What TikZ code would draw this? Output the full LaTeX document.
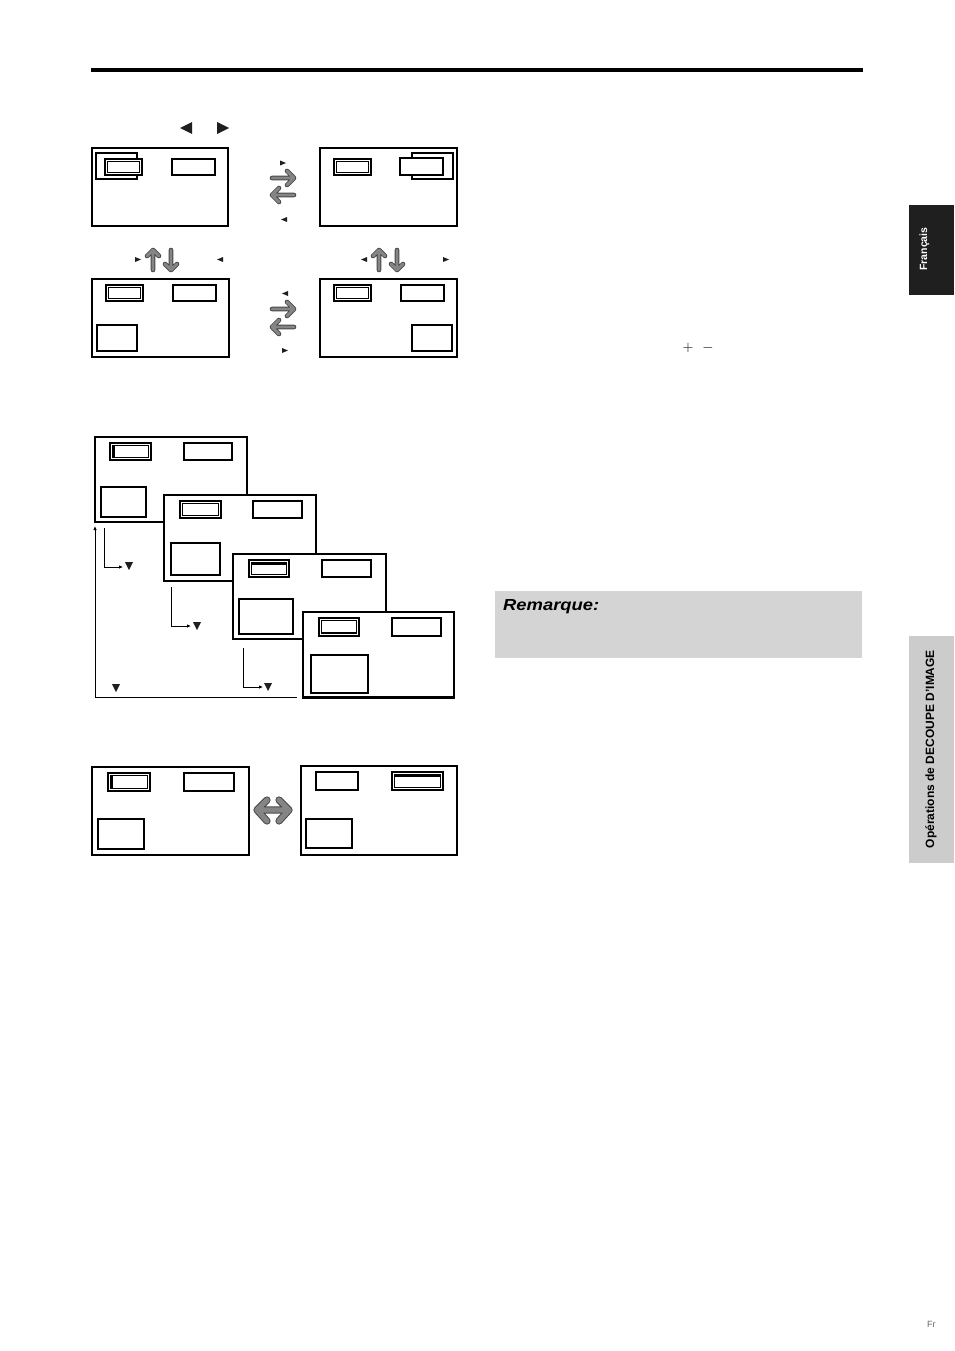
\documentclass[tikz,border=0pt]{standalone}
\usepackage{fontspec}
\usepackage{graphicx}
\setmainfont{Liberation Sans}
\usetikzlibrary{arrows.meta}
\newcommand\dblbox[4]{\draw[bx] (#1,#2) rectangle (#3,#4); \draw[bx] (#1+2.5,#2+2.5) rectangle (#3-2.5,#4-2.5);}
\newcommand\garrow[1]{\draw[garrowout] #1; \draw[garrowin] #1;}
\begin{document}
\begin{tikzpicture}[x=1pt,y=-1pt,
  scr/.style={draw=black, line width=1.3pt, fill=white},
  bx/.style={draw=black, line width=1.1pt, fill=white},
  thk/.style={draw=black, line width=2.4pt},
  tri/.style={fill=black!88},
  conn/.style={draw=black, line width=0.9pt, -{Latex[length=4pt,width=3.5pt]}},
  garrowout/.style={draw=black!72, line width=4.6pt, line cap=round, line join=round},
  garrowin/.style={draw=black!48, line width=2.9pt, line cap=round, line join=round},
  garrowoutb/.style={draw=black!72, line width=7.2pt, line cap=round, line join=round},
  garrowinb/.style={draw=black!48, line width=5.2pt, line cap=round, line join=round},
]
\useasboundingbox (0,0) rectangle (954,1351);
\fill[white] (0,0) rectangle (954,1351);

% top rule
\draw[line width=4pt] (91,70) -- (863,70);

% side tabs
\fill[black!88] (909,205) rectangle (954,295);
\node[rotate=90, anchor=base, text=white, font=\bfseries\fontsize{10.5}{10.5}\selectfont] (tabfr) at (927,249) {Français};
\fill[black!20] (909,636) rectangle (954,863);
\node[rotate=90, anchor=base, text=black, font=\bfseries\fontsize{12}{12}\selectfont] (tabop) at (934,749) {Opérations de DECOUPE D'IMAGE};

% remarque box
\fill[black!17] (495,591) rectangle (862,658);
\node[anchor=base west, inner sep=0pt, font=\bfseries\itshape\fontsize{16}{16}\selectfont] (rem) at (503,610) {\scalebox{1.15}[1]{Remarque:}};

% + -
\node[font=\fontsize{14}{14}\selectfont] (plus) at (688,348) {$+$};
\node[font=\fontsize{14}{14}\selectfont] (minus) at (708,348) {$-$};

% Fr
\node[anchor=base west, inner sep=0pt, text=black!60, font=\fontsize{9}{9}\selectfont] (fr) at (927,1327.5) {Fr};

% top triangles
\fill[tri] (192,122) -- (180,128) -- (192,134) -- cycle;
\fill[tri] (217,122) -- (229,128) -- (217,134) -- cycle;

% ---------- row 1 ----------
\draw[scr] (92,148) rectangle (228,226);
\draw[bx] (96,153) rectangle (137,179);
\dblbox{105}{159}{142}{175}
\draw[bx] (172,159) rectangle (215,175);

\draw[scr] (320,148) rectangle (457,226);
\dblbox{334}{159}{371}{175}
\draw[bx] (412,153) rectangle (453,179);
\draw[bx] (400,158) rectangle (443,175);

\fill[tri] (280,160.5) -- (286,163) -- (280,165.5) -- cycle;
\garrow{(272,178) -- (294,178) (287,171) -- (294,178) -- (287,185)}
\garrow{(294,195) -- (272,195) (279,188) -- (272,195) -- (279,202)}
\fill[tri] (287,217) -- (281,219.5) -- (287,222) -- cycle;

% ---------- row 2 ----------
\fill[tri] (135,257) -- (141,259.5) -- (135,262) -- cycle;
\garrow{(153,270) -- (153,250) (147,256) -- (153,250) -- (159,256)}
\garrow{(171,250) -- (171,270) (165,264) -- (171,270) -- (177,264)}
\fill[tri] (223,257) -- (217,259.5) -- (223,262) -- cycle;

\fill[tri] (367,257) -- (361,259.5) -- (367,262) -- cycle;
\garrow{(379,270) -- (379,250) (373,256) -- (379,250) -- (385,256)}
\garrow{(397,250) -- (397,270) (391,264) -- (397,270) -- (403,264)}
\fill[tri] (443,257) -- (449,259.5) -- (443,262) -- cycle;

\draw[scr] (92,279) rectangle (229,357);
\dblbox{106}{285}{143}{301}
\draw[bx] (173,285) rectangle (216,301);
\draw[bx] (97,325) rectangle (137,351);

\draw[scr] (320,279) rectangle (457,357);
\dblbox{334}{285}{371}{301}
\draw[bx] (401,285) rectangle (444,301);
\draw[bx] (412,325) rectangle (452,351);

\fill[tri] (288,291) -- (282,293.5) -- (288,296) -- cycle;
\garrow{(272,309) -- (294,309) (287,302) -- (294,309) -- (287,316)}
\garrow{(294,327) -- (272,327) (279,320) -- (272,327) -- (279,334)}
\fill[tri] (282,348) -- (288,350.5) -- (282,353) -- cycle;

% ---------- cascade ----------
\draw[scr] (95,437) rectangle (247,522);
\dblbox{110}{443}{151}{460}
\draw[line width=2pt] (113.5,445.5) -- (113.5,457.5);
\draw[bx] (184,443) rectangle (232,460);
\draw[bx] (101,487) rectangle (146,517);

\draw[scr] (164,495) rectangle (316,581);
\dblbox{180}{501}{221}{518}
\draw[bx] (253,501) rectangle (302,518);
\draw[bx] (171,543) rectangle (220,575);

\draw[scr] (233,554) rectangle (386,639);
\dblbox{249}{560}{289}{577}
\draw[line width=2pt] (251.5,563.5) -- (286.5,563.5);
\draw[bx] (322,560) rectangle (371,577);
\draw[bx] (239,599) rectangle (293,634);

\draw[scr] (303,612) rectangle (454,698);
\draw[line width=2.4pt] (303,697.5) -- (454,697.5);
\dblbox{319}{618}{359}{636}
\draw[line width=2pt] (321.5,632.5) -- (356.5,632.5);
\draw[bx] (392,618) rectangle (441,636);
\draw[bx] (311,655) rectangle (368,693);

% connectors
\coordinate (l1a) at (104,528);
\coordinate (l1b) at (104,567);
\coordinate (l1c) at (123,567);
\draw[conn] (l1a) -- (l1b) -- (l1c);
\fill[tri] (125,562) -- (133,562) -- (129,570) -- cycle;

\coordinate (l2a) at (171,587);
\coordinate (l2b) at (171,626);
\coordinate (l2c) at (191,626);
\draw[conn] (l2a) -- (l2b) -- (l2c);
\fill[tri] (193,622) -- (201,622) -- (197,630) -- cycle;

\coordinate (l3a) at (243,648);
\coordinate (l3b) at (243,687);
\coordinate (l3c) at (263,687);
\draw[conn] (l3a) -- (l3b) -- (l3c);
\fill[tri] (264,683) -- (272,683) -- (268,691) -- cycle;

\coordinate (lpa) at (297,697);
\coordinate (lpb) at (95,697);
\coordinate (lpc) at (95,526);
\draw[conn] (lpa) -- (lpb) -- (lpc);
\fill[tri] (112,684) -- (120,684) -- (116,692) -- cycle;

% ---------- bottom pair ----------
\draw[scr] (92,767) rectangle (249,855);
\dblbox{108}{773}{150}{791}
\draw[line width=2pt] (111.5,775.5) -- (111.5,788.5);
\draw[bx] (184,773) rectangle (234,791);
\draw[bx] (98,819) rectangle (144,849);

\draw[scr] (301,766) rectangle (457,855);
\draw[bx] (316,772) rectangle (358,790);
\dblbox{392}{772}{443}{790}
\draw[line width=2pt] (394.5,775.5) -- (440.5,775.5);
\draw[bx] (306,819) rectangle (352,848);

\draw[garrowoutb] (257,810) -- (289,810) (267,800) -- (257,810) -- (267,821) (279,800) -- (289,810) -- (279,821);
\draw[garrowinb] (257,810) -- (289,810) (267,800) -- (257,810) -- (267,821) (279,800) -- (289,810) -- (279,821);

\end{tikzpicture}
\end{document}
